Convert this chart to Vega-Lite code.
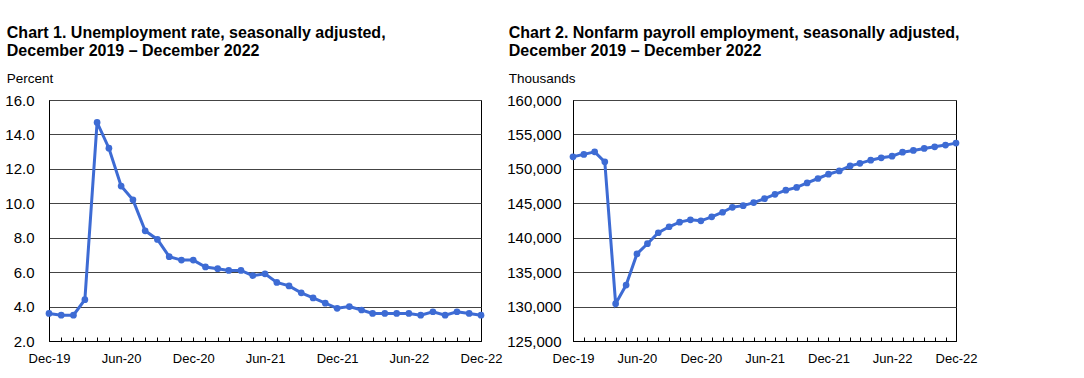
{
  "$schema": "https://vega.github.io/schema/vega-lite/v6.json",
  "padding": {"left": 4, "top": 24, "right": 5, "bottom": 5},
  "background": "#ffffff",
  "config": {
    "font": "Liberation Sans",
    "view": {"stroke": "#000", "strokeWidth": 1},
    "title": {"anchor": "start", "fontSize": 16, "fontWeight": "bold", "color": "#000", "lineHeight": 18, "subtitleFontSize": 13.5, "subtitleColor": "#000", "subtitleFont": "Liberation Sans", "subtitlePadding": 13, "offset": 8, "dx": 2},
    "axis": {"labelColor": "#000", "domainColor": "#000", "tickColor": "#000"}
  },
  "datasets": {
    "unemp": [
      {"date": "2019-12-01", "value": 3.6},
      {"date": "2020-01-01", "value": 3.5},
      {"date": "2020-02-01", "value": 3.5},
      {"date": "2020-03-01", "value": 4.4},
      {"date": "2020-04-01", "value": 14.7},
      {"date": "2020-05-01", "value": 13.2},
      {"date": "2020-06-01", "value": 11.0},
      {"date": "2020-07-01", "value": 10.2},
      {"date": "2020-08-01", "value": 8.4},
      {"date": "2020-09-01", "value": 7.9},
      {"date": "2020-10-01", "value": 6.9},
      {"date": "2020-11-01", "value": 6.7},
      {"date": "2020-12-01", "value": 6.7},
      {"date": "2021-01-01", "value": 6.3},
      {"date": "2021-02-01", "value": 6.2},
      {"date": "2021-03-01", "value": 6.1},
      {"date": "2021-04-01", "value": 6.1},
      {"date": "2021-05-01", "value": 5.8},
      {"date": "2021-06-01", "value": 5.9},
      {"date": "2021-07-01", "value": 5.4},
      {"date": "2021-08-01", "value": 5.2},
      {"date": "2021-09-01", "value": 4.8},
      {"date": "2021-10-01", "value": 4.5},
      {"date": "2021-11-01", "value": 4.2},
      {"date": "2021-12-01", "value": 3.9},
      {"date": "2022-01-01", "value": 4.0},
      {"date": "2022-02-01", "value": 3.8},
      {"date": "2022-03-01", "value": 3.6},
      {"date": "2022-04-01", "value": 3.6},
      {"date": "2022-05-01", "value": 3.6},
      {"date": "2022-06-01", "value": 3.6},
      {"date": "2022-07-01", "value": 3.5},
      {"date": "2022-08-01", "value": 3.7},
      {"date": "2022-09-01", "value": 3.5},
      {"date": "2022-10-01", "value": 3.7},
      {"date": "2022-11-01", "value": 3.6},
      {"date": "2022-12-01", "value": 3.5}
    ],
    "payroll": [
      {"date": "2019-12-01", "value": 151750},
      {"date": "2020-01-01", "value": 152100},
      {"date": "2020-02-01", "value": 152470},
      {"date": "2020-03-01", "value": 151020},
      {"date": "2020-04-01", "value": 130420},
      {"date": "2020-05-01", "value": 133120},
      {"date": "2020-06-01", "value": 137650},
      {"date": "2020-07-01", "value": 139130},
      {"date": "2020-08-01", "value": 140720},
      {"date": "2020-09-01", "value": 141590},
      {"date": "2020-10-01", "value": 142260},
      {"date": "2020-11-01", "value": 142600},
      {"date": "2020-12-01", "value": 142450},
      {"date": "2021-01-01", "value": 143030},
      {"date": "2021-02-01", "value": 143700},
      {"date": "2021-03-01", "value": 144420},
      {"date": "2021-04-01", "value": 144660},
      {"date": "2021-05-01", "value": 145100},
      {"date": "2021-06-01", "value": 145670},
      {"date": "2021-07-01", "value": 146300},
      {"date": "2021-08-01", "value": 146900},
      {"date": "2021-09-01", "value": 147300},
      {"date": "2021-10-01", "value": 147960},
      {"date": "2021-11-01", "value": 148600},
      {"date": "2021-12-01", "value": 149220},
      {"date": "2022-01-01", "value": 149700},
      {"date": "2022-02-01", "value": 150430},
      {"date": "2022-03-01", "value": 150800},
      {"date": "2022-04-01", "value": 151260},
      {"date": "2022-05-01", "value": 151600},
      {"date": "2022-06-01", "value": 151840},
      {"date": "2022-07-01", "value": 152420},
      {"date": "2022-08-01", "value": 152670},
      {"date": "2022-09-01", "value": 152960},
      {"date": "2022-10-01", "value": 153200},
      {"date": "2022-11-01", "value": 153450},
      {"date": "2022-12-01", "value": 153740}
    ]
  },
  "bounds": "flush",
  "spacing": 92,
  "hconcat": [
    {
      "width": 432,
      "height": 241,
      "title": {"text": ["Chart 1. Unemployment rate, seasonally adjusted,", "December 2019 – December 2022"], "subtitle": "Percent"},
      "data": {"name": "unemp"},
      "mark": {"type": "line", "color": "#3d6bd4", "strokeWidth": 3, "point": {"filled": true, "size": 45, "color": "#3d6bd4"}},
      "encoding": {
        "x": {
          "field": "date", "type": "temporal",
          "scale": {"type": "utc", "nice": false, "domain": [{"year": 2019, "month": 12, "date": 1, "utc": true}, {"year": 2022, "month": 12, "date": 1, "utc": true}]},
          "axis": {"title": null, "tickCount": {"interval": "month", "step": 1}, "labelExpr": "utcmonth(datum.value) % 6 == 5 ? utcFormat(datum.value, '%b-%y') : ''", "labelOverlap": false, "labelFlush": false, "grid": false, "tickSize": -4, "labelFontSize": 13, "labelPadding": 15}
        },
        "y": {
          "field": "value", "type": "quantitative",
          "scale": {"domain": [2, 16], "nice": false, "zero": false},
          "axis": {"title": null, "values": [2, 4, 6, 8, 10, 12, 14, 16], "format": ".1f", "grid": true, "gridColor": "#444", "gridOpacity": 1, "ticks": false, "labelFontSize": 15, "labelPadding": 15}
        }
      }
    },
    {
      "width": 383,
      "height": 241,
      "title": {"text": ["Chart 2. Nonfarm payroll employment, seasonally adjusted,", "December 2019 – December 2022"], "subtitle": "Thousands"},
      "data": {"name": "payroll"},
      "mark": {"type": "line", "color": "#3d6bd4", "strokeWidth": 3, "point": {"filled": true, "size": 45, "color": "#3d6bd4"}},
      "encoding": {
        "x": {
          "field": "date", "type": "temporal",
          "scale": {"type": "utc", "nice": false, "domain": [{"year": 2019, "month": 12, "date": 1, "utc": true}, {"year": 2022, "month": 12, "date": 1, "utc": true}]},
          "axis": {"title": null, "tickCount": {"interval": "month", "step": 1}, "labelExpr": "utcmonth(datum.value) % 6 == 5 ? utcFormat(datum.value, '%b-%y') : ''", "labelOverlap": false, "labelFlush": false, "grid": false, "tickSize": -4, "labelFontSize": 13, "labelPadding": 15}
        },
        "y": {
          "field": "value", "type": "quantitative",
          "scale": {"domain": [125000, 160000], "nice": false, "zero": false},
          "axis": {"title": null, "values": [125000, 130000, 135000, 140000, 145000, 150000, 155000, 160000], "format": ",d", "grid": true, "gridColor": "#444", "gridOpacity": 1, "ticks": false, "labelFontSize": 15, "labelPadding": 12}
        }
      }
    }
  ]
}
